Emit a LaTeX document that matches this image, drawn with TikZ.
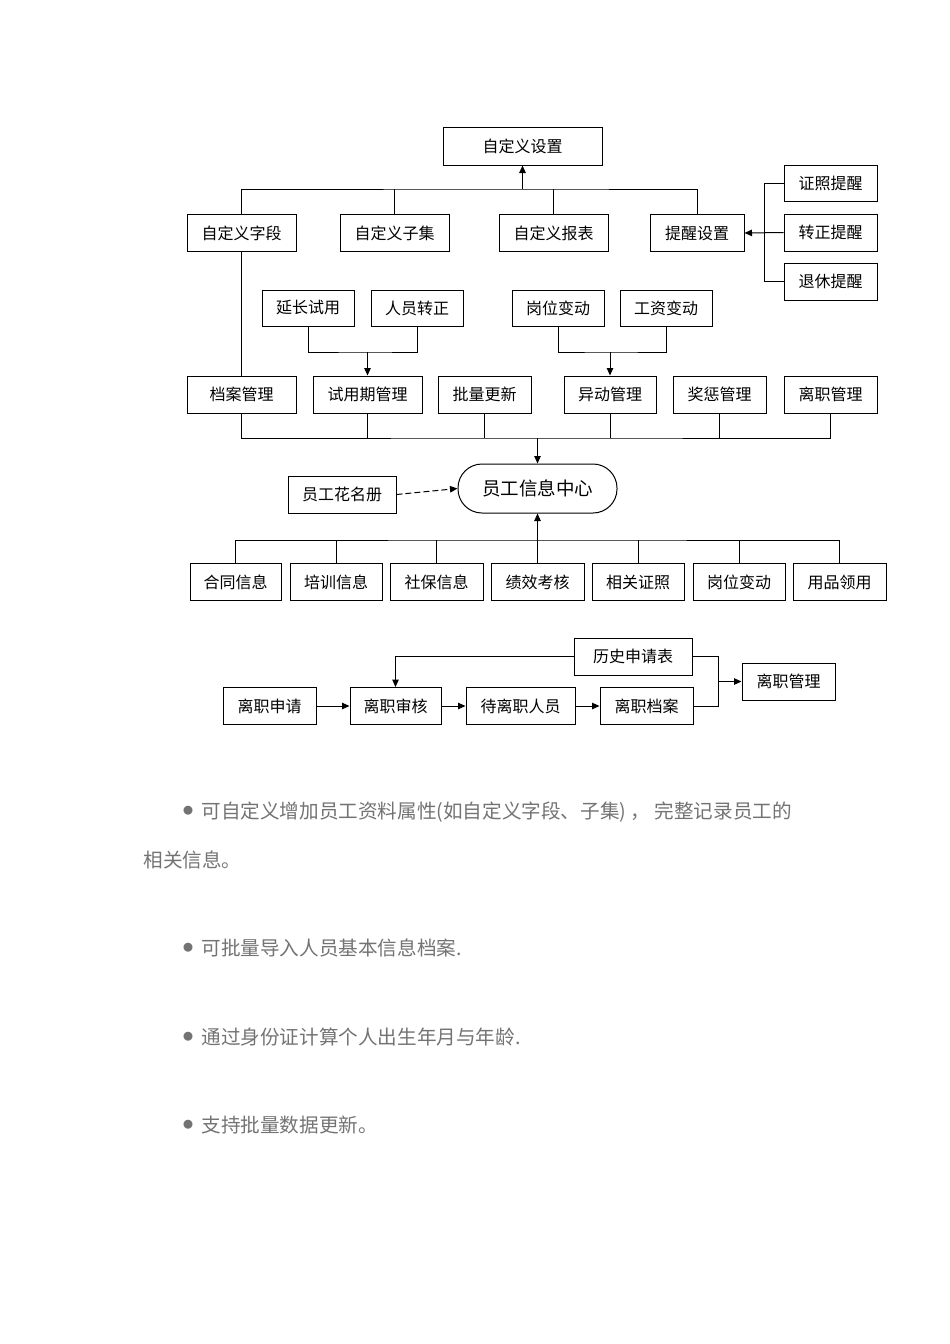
\documentclass[tikz,border=0pt]{standalone}
\usepackage{fontspec}
\setmainfont{Noto Sans CJK SC}
\usetikzlibrary{arrows.meta}
\tikzset{box/.style={draw, rectangle, inner sep=0pt, minimum height=37pt,
        font=\fontsize{16}{16}\selectfont},
    arr/.style={-{Triangle[length=7.5pt,width=6.5pt]}},
    note/.style={anchor=base west, inner sep=0pt, text=black!55,
        font=\fontsize{19.6}{20}\selectfont},
    dot/.style={inner sep=0pt, text=black!55, font=\fontsize{10}{10}\selectfont},
    }
\begin{document}
\begin{tikzpicture}[x=1pt, y=-1pt, line width=1pt]
\useasboundingbox (0,0) rectangle (950,1344);
% custom settings
\node[box, minimum width=159pt, minimum height=38pt] (setup) at (522.5,146) {自定义设置};
\node[box, minimum width=109pt] (field) at (241.5,233) {自定义字段};
\node[box, minimum width=109pt] (subset) at (394.5,233) {自定义子集};
\node[box, minimum width=109pt] (report) at (553.5,233) {自定义报表};
\node[box, minimum width=94pt] (remind) at (697,233) {提醒设置};
\node[box, minimum width=93pt, minimum height=36pt] (cert) at (830.5,183) {证照提醒};
\node[box, minimum width=93pt] (regular) at (830.5,232.5) {转正提醒};
\node[box, minimum width=93pt] (retire) at (830.5,281.5) {退休提醒};
\coordinate (bus1) at (522.5,189);
\draw (field.north) |- (bus1) -| (remind.north);
\draw (subset.north) -- (subset.north |- bus1);
\draw (report.north) -- (report.north |- bus1);
\draw[arr] (bus1) -- (setup.south);
\draw (cert.west) -- ++(-19,0) |- (retire.west);
\draw[arr] (regular.west) -- (remind.east);
% management
\node[box, minimum width=92pt, minimum height=36pt] (extend) at (308,308) {延长试用};
\node[box, minimum width=92pt, minimum height=36pt] (promote) at (417,308) {人员转正};
\node[box, minimum width=92pt, minimum height=36pt] (post) at (558,308) {岗位变动};
\node[box, minimum width=92pt, minimum height=36pt] (salary) at (666,308) {工资变动};
\node[box, minimum width=109pt] (archive) at (241.5,394.5) {档案管理};
\node[box, minimum width=109pt] (probation) at (367.5,394.5) {试用期管理};
\node[box, minimum width=93pt] (batch) at (484.5,394.5) {批量更新};
\node[box, minimum width=92pt] (transfer) at (610,394.5) {异动管理};
\node[box, minimum width=93pt] (reward) at (719.5,394.5) {奖惩管理};
\node[box, minimum width=93pt] (leave) at (830.5,394.5) {离职管理};
\coordinate (j1) at (367.5,352);
\coordinate (j2) at (610,352);
\draw (field.south) -- (archive.north);
\draw (extend.south) |- (j1) -| (promote.south);
\draw[arr] (j1) -- (probation.north);
\draw (post.south) |- (j2) -| (salary.south);
\draw[arr] (j2) -- (transfer.north);
% info center
\node[box, minimum width=159pt, minimum height=49pt, rounded corners=24pt,
    font=\fontsize{18.5}{19}\selectfont] (center) at (537.5,488.5) {员工信息中心};
\node[box, minimum width=108pt] (roster) at (342,494.5) {员工花名册};
\coordinate (bus3) at (537.5,438);
\draw (archive.south) |- (bus3) -| (leave.south);
\foreach \n in {probation,batch,transfer,reward}
    \draw (\n.south) -- (\n.south |- bus3);
\draw[arr] (bus3) -- (center.north);
\draw[arr, dash pattern=on 6pt off 3pt] (roster.east) -- (center.west);
\node[box, minimum width=91pt] (contract) at (235.5,582) {合同信息};
\node[box, minimum width=92pt] (training) at (336,582) {培训信息};
\node[box, minimum width=93pt] (social) at (436.5,582) {社保信息};
\node[box, minimum width=93pt] (perf) at (537.5,582) {绩效考核};
\node[box, minimum width=92pt] (license) at (638,582) {相关证照};
\node[box, minimum width=92pt] (postchg) at (739,582) {岗位变动};
\node[box, minimum width=93pt] (supplies) at (839.5,582) {用品领用};
\coordinate (bus4) at (537.5,540);
\draw (contract.north) |- (bus4) -| (supplies.north);
\foreach \n in {training,social,license,postchg}
    \draw (\n.north) -- (\n.north |- bus4);
\draw[arr] (perf.north) -- (center.south);
% leaving flow
\node[box, minimum width=93pt] (apply) at (269.5,706) {离职申请};
\node[box, minimum width=91pt] (audit) at (395.5,706) {离职审核};
\node[box, minimum width=109pt] (pending) at (520.5,706) {待离职人员};
\node[box, minimum width=93pt] (record) at (646.5,706) {离职档案};
\node[box, minimum width=118pt] (history) at (633,656.5) {历史申请表};
\node[box, minimum width=93pt] (leavemgr) at (788.5,681.5) {离职管理};
\coordinate (j3) at (718,681.5);
\draw[arr] (apply) -- (audit);
\draw[arr] (audit) -- (pending);
\draw[arr] (pending) -- (record);
\draw[arr] (history.west) -| (audit.north);
\draw (history.east) -| (j3);
\draw (record.east) -| (j3);
\draw[arr] (j3) -- (leavemgr.west);
% notes
\node[dot] (d1) at (188,811) {●};
\node[note] (n1) at (201,818) {可自定义增加员工资料属性(如自定义字段、子集) ， 完整记录员工的};
\node[note] (n1b) at (143,867) {相关信息。};
\node[dot] (d2) at (188,948) {●};
\node[note] (n2) at (201,955) {可批量导入人员基本信息档案.};
\node[dot] (d3) at (188,1037) {●};
\node[note] (n3) at (201,1044) {通过身份证计算个人出生年月与年龄.};
\node[dot] (d4) at (188,1125) {●};
\node[note] (n4) at (201,1132) {支持批量数据更新。};
\end{tikzpicture}
\end{document}
